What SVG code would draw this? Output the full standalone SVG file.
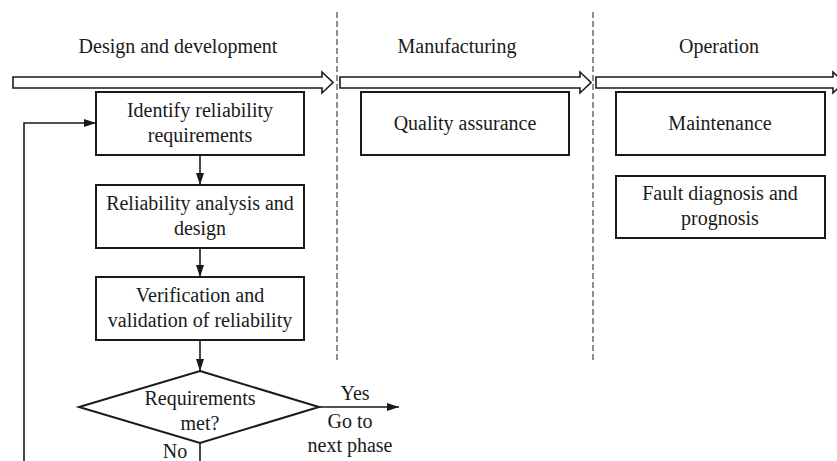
<svg xmlns="http://www.w3.org/2000/svg" width="837" height="461" viewBox="0 0 837 461">
<defs>
<marker id="ah" viewBox="0 0 12 8" refX="12" refY="4" markerWidth="12" markerHeight="8" markerUnits="userSpaceOnUse" orient="auto">
<path d="M0,0 L12,4 L0,8 Z" fill="#1a1a1a"/>
</marker>
</defs>
<style>
text{font-family:"Liberation Serif","Times New Roman",serif;font-size:20px;fill:#1a1a1a;text-anchor:middle}
.box{fill:#fff;stroke:#1a1a1a;stroke-width:2}
.phase{fill:#fff;stroke:#1a1a1a;stroke-width:1.6}
.dash{stroke:#444;stroke-width:1.2;stroke-dasharray:6 3;fill:none}
.edge{stroke:#1a1a1a;stroke-width:1.6;fill:none}
</style>
<rect width="837" height="461" fill="#fff"/>
<g id="dividers">
<line class="dash" x1="337" y1="12" x2="337" y2="360"/>
<line class="dash" x1="593" y1="12" x2="593" y2="360"/>
</g>
<g id="phase-labels">
<text x="178" y="53">Design and development</text>
<text x="457" y="53">Manufacturing</text>
<text x="719" y="53">Operation</text>
</g>
<g id="phase-arrows">
<path class="phase" d="M13,77 H322 V72 L333,82.5 L322,93 V88 H13 Z"/>
<path class="phase" d="M340,77 H580 V72 L591,82.5 L580,93 V88 H340 Z"/>
<path class="phase" d="M596,77 H833 V72 L844,82.5 L833,93 V88 H596 Z"/>
</g>
<g id="identify">
<rect class="box" x="96" y="92" width="208" height="63"/>
<text x="200" y="117">Identify reliability</text>
<text x="200" y="142">requirements</text>
</g>
<g id="analysis">
<rect class="box" x="96" y="185" width="208" height="63"/>
<text x="200" y="210">Reliability analysis and</text>
<text x="200" y="235">design</text>
</g>
<g id="verification">
<rect class="box" x="96" y="277" width="208" height="63"/>
<text x="200" y="302">Verification and</text>
<text x="200" y="327">validation of reliability</text>
</g>
<g id="decision">
<path class="box" d="M200,371 L319,407 L200,443 L79,407 Z"/>
<text x="200" y="405">Requirements</text>
<text x="200" y="430">met?</text>
</g>
<g id="quality">
<rect class="box" x="361" y="92" width="208" height="63"/>
<text x="465" y="130">Quality assurance</text>
</g>
<g id="maintenance">
<rect class="box" x="616" y="92" width="209" height="63"/>
<text x="720" y="130">Maintenance</text>
</g>
<g id="fault">
<rect class="box" x="616" y="176" width="209" height="62"/>
<text x="720" y="200">Fault diagnosis and</text>
<text x="720" y="225">prognosis</text>
</g>
<g id="connectors">
<line class="edge" x1="200" y1="155" x2="200" y2="185" marker-end="url(#ah)"/>
<line class="edge" x1="200" y1="248" x2="200" y2="277" marker-end="url(#ah)"/>
<line class="edge" x1="200" y1="340" x2="200" y2="371" marker-end="url(#ah)"/>
<line class="edge" x1="319" y1="407" x2="399" y2="407" marker-end="url(#ah)"/>
<polyline class="edge" points="200,443 200,461"/>
<polyline class="edge" points="24,461 24,123 96,123" marker-end="url(#ah)"/>
<text x="355" y="400">Yes</text>
<text x="350" y="428">Go to</text>
<text x="350" y="452">next phase</text>
<text x="175" y="458">No</text>
</g>
</svg>
